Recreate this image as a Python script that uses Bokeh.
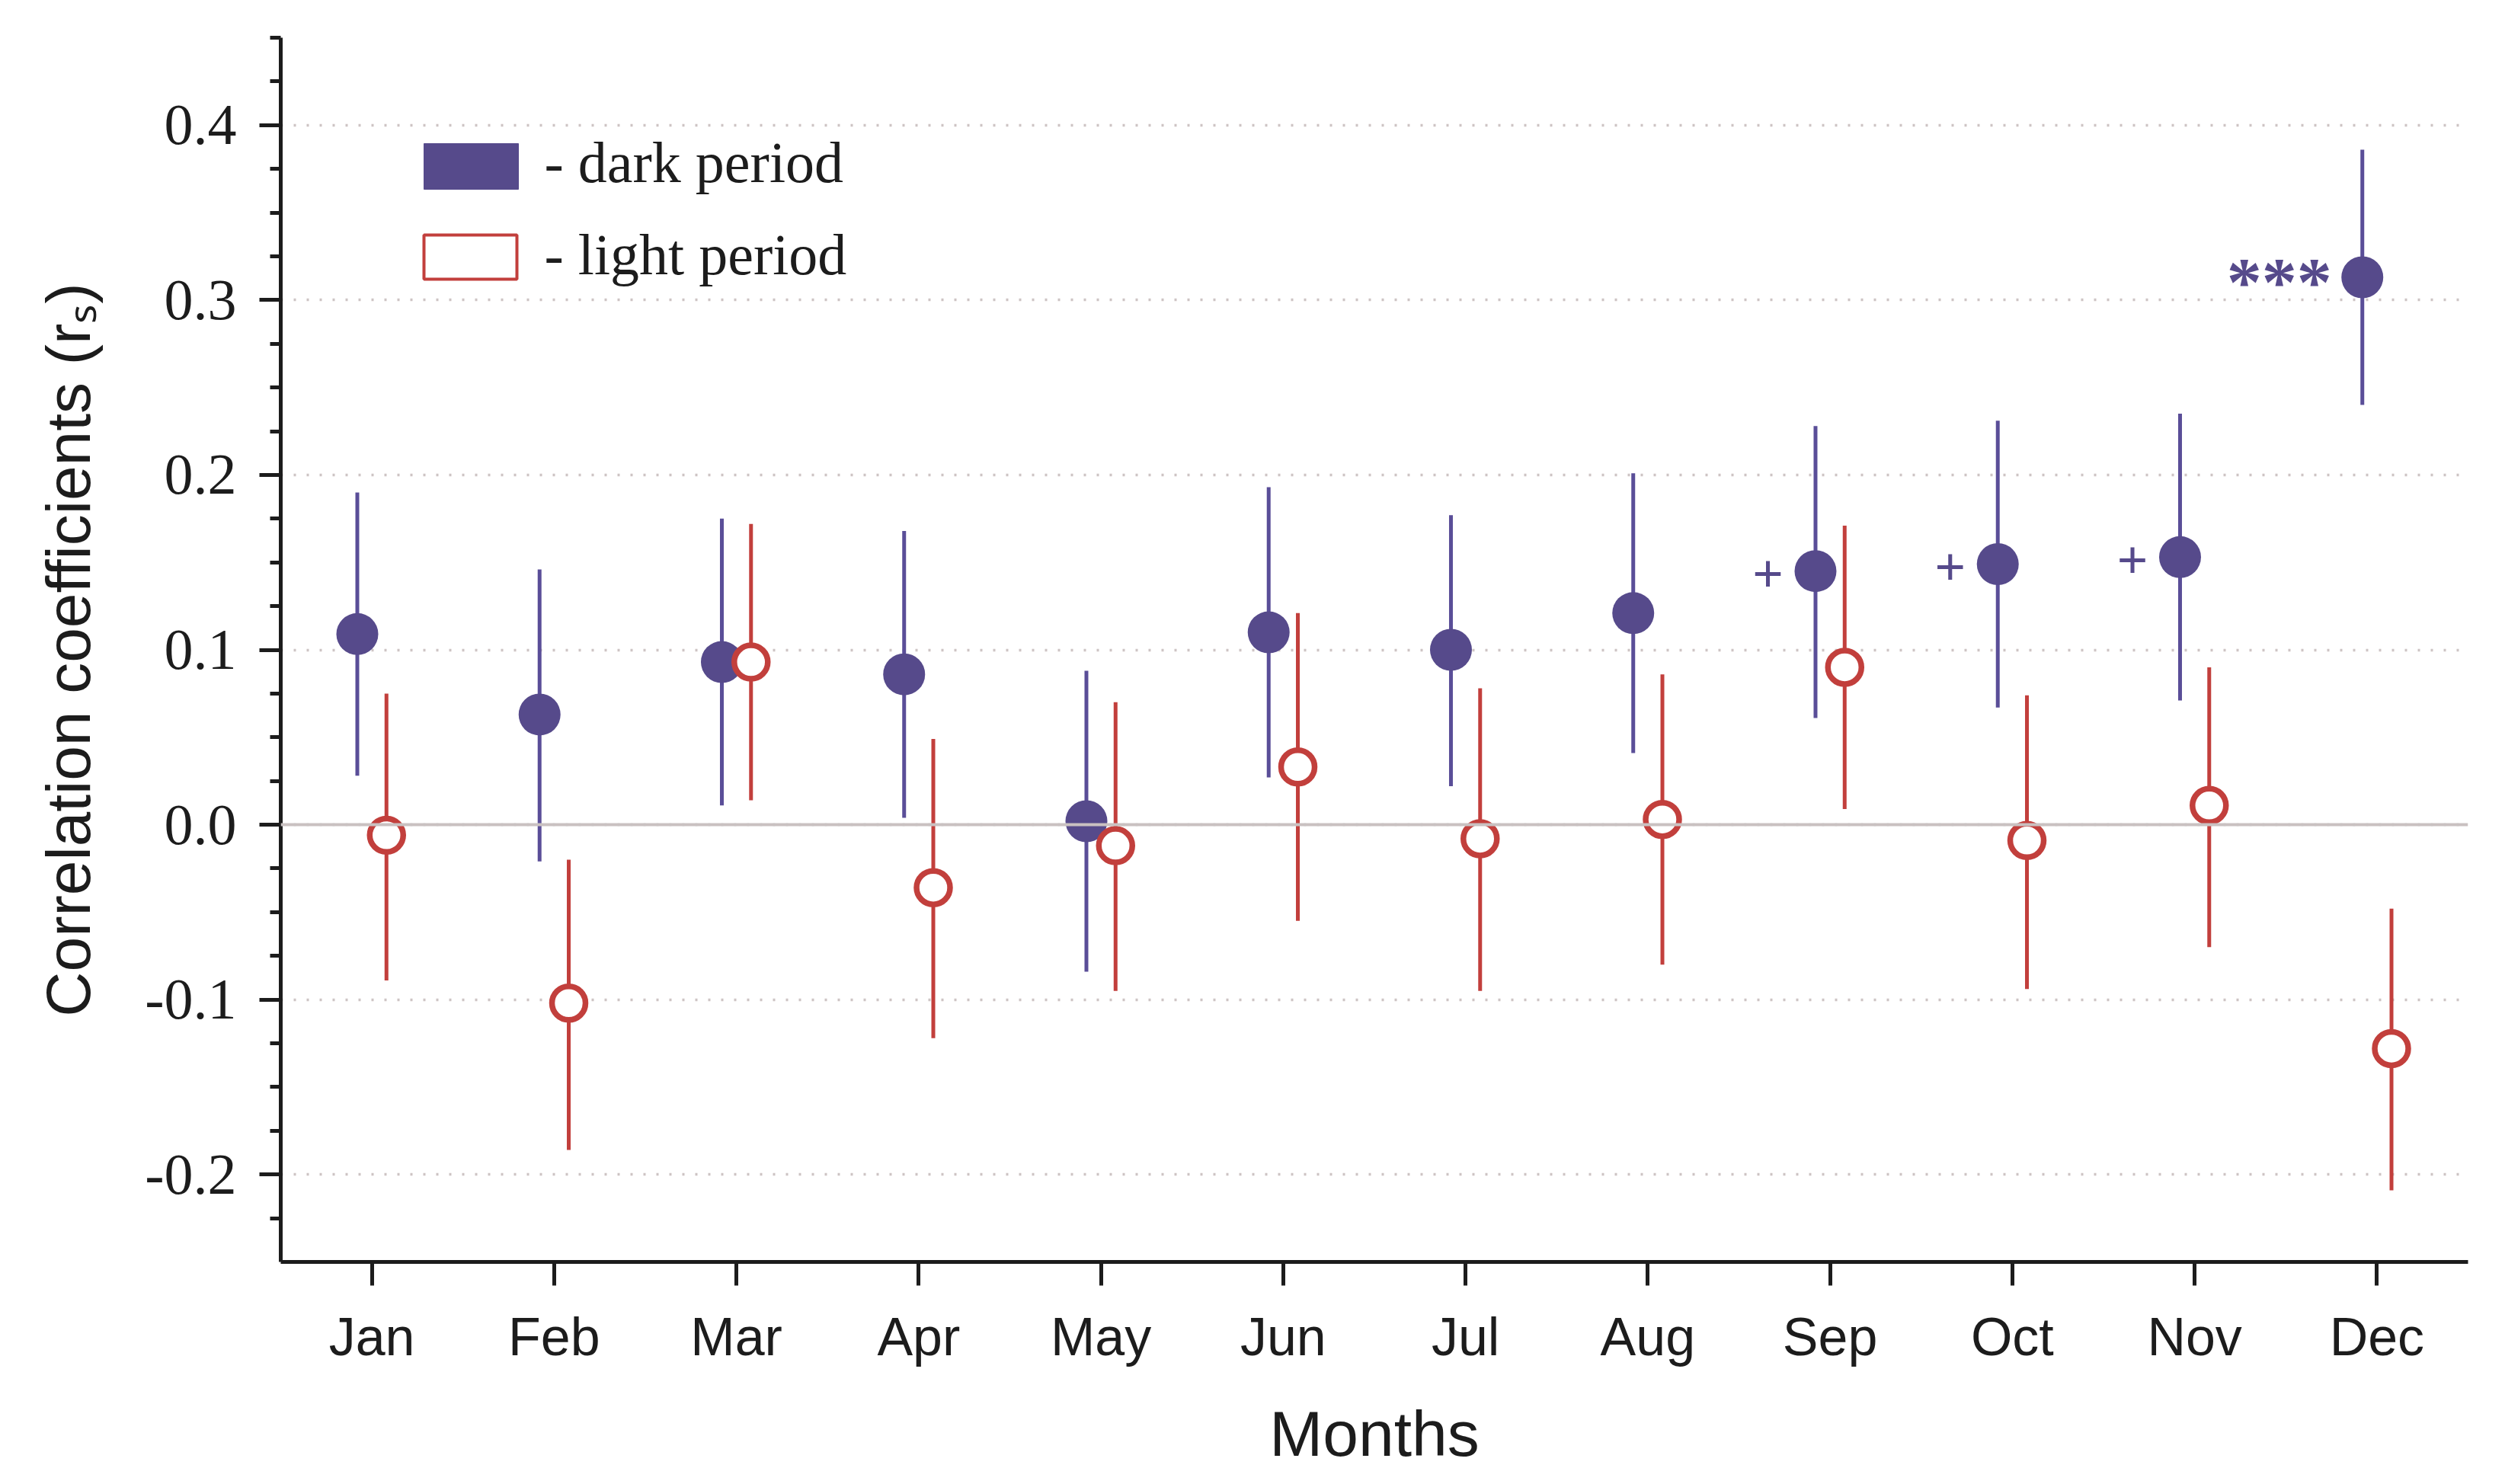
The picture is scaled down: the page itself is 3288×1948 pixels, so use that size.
from bokeh.plotting import figure
from bokeh.models import (FactorRange, Range1d, FixedTicker, PrintfTickFormatter,
                          ColumnDataSource, Span, BoxAnnotation, Label)
from bokeh.transform import dodge
from bokeh.core.properties import value
from bokeh.embed import file_html
from bokeh.resources import INLINE

# ---------------- data ----------------
months = ["Jan", "Feb", "Mar", "Apr", "May", "Jun", "Jul", "Aug", "Sep", "Oct", "Nov", "Dec"]

dark_r = [0.109, 0.063, 0.093, 0.086, 0.002, 0.110, 0.100, 0.121, 0.145, 0.149, 0.153, 0.313]
dark_lo = [0.028, -0.021, 0.011, 0.004, -0.084, 0.027, 0.022, 0.041, 0.061, 0.067, 0.071, 0.240]
dark_hi = [0.190, 0.146, 0.175, 0.168, 0.088, 0.193, 0.177, 0.201, 0.228, 0.231, 0.235, 0.386]

light_r = [-0.006, -0.102, 0.093, -0.036, -0.012, 0.033, -0.008, 0.003, 0.090, -0.009, 0.011, -0.128]
light_lo = [-0.089, -0.186, 0.014, -0.122, -0.095, -0.055, -0.095, -0.080, 0.009, -0.094, -0.070, -0.209]
light_hi = [0.075, -0.020, 0.172, 0.049, 0.070, 0.121, 0.078, 0.086, 0.171, 0.074, 0.090, -0.048]

signif = ["", "", "", "", "", "", "", "", "+", "+", "+", "***"]

y_major = [-0.2, -0.1, 0.0, 0.1, 0.2, 0.3, 0.4]
y_minor = [-0.225, -0.175, -0.15, -0.125, -0.075, -0.05, -0.025, 0.025, 0.05, 0.075,
           0.125, 0.15, 0.175, 0.225, 0.25, 0.275, 0.325, 0.35, 0.375, 0.425, 0.45]

legend_labels = ["- dark period", "- light period"]

# ---------------- styles ----------------
PURPLE = "#564a8b"
PURPLE_LINE = "#5a4e98"
RED = "#c23f3c"
INK = "#1c1c1c"
SERIF = "Liberation Serif"
SANS = "Liberation Sans"

dark_src = ColumnDataSource(dict(month=months, r=dark_r, lo=dark_lo, hi=dark_hi, sig=signif))
light_src = ColumnDataSource(dict(month=months, r=light_r, lo=light_lo, hi=light_hi))

plus_idx = [i for i, s in enumerate(signif) if s == "+"]
star_idx = [i for i, s in enumerate(signif) if s.startswith("*")]
plus_src = ColumnDataSource(dict(month=[months[i] for i in plus_idx],
                                 r=[dark_r[i] for i in plus_idx],
                                 sig=[signif[i] for i in plus_idx]))
star_src = ColumnDataSource(dict(month=[months[i] for i in star_idx],
                                 r=[dark_r[i] for i in star_idx],
                                 sig=[signif[i] for i in star_idx]))

p = figure(width=3272, height=1932,
           x_range=FactorRange(factors=months, range_padding=0),
           y_range=Range1d(-0.25, 0.45),
           output_backend="svg", toolbar_location=None,
           min_border_left=368, min_border_right=33,
           min_border_top=49, min_border_bottom=276)
p.outline_line_color = None
p.background_fill_color = "white"
p.border_fill_color = "white"

DX = 0.08
xd = dodge("month", -DX, range=p.x_range)
xl = dodge("month", DX, range=p.x_range)

# grid
p.xgrid.visible = False
p.ygrid.ticker = FixedTicker(ticks=y_major)
p.ygrid.grid_line_color = "#cdc4c4"
p.ygrid.grid_line_dash = "3 14"
p.ygrid.grid_line_width = 3.5

p.add_layout(Span(location=0, dimension="width", line_color="#c9c1c1", line_width=4))

# dark period
p.segment(x0=xd, y0="lo", x1=xd, y1="hi", source=dark_src, line_color=PURPLE_LINE, line_width=5)
p.scatter(x=xd, y="r", source=dark_src, marker="circle", size=55,
          fill_color=PURPLE, line_color=None)

# light period
p.segment(x0=xl, y0="lo", x1=xl, y1="hi", source=light_src, line_color=RED, line_width=5)
p.scatter(x=xl, y="r", source=light_src, marker="circle", size=44,
          fill_color="white", line_color=RED, line_width=7.5)

# significance marks
p.text(x=xd, y="r", text="sig", source=plus_src, text_align="right", text_baseline="middle",
       x_offset=-42, y_offset=4, text_font=value(SERIF), text_font_style="bold",
       text_font_size="72px", text_color=PURPLE)
p.text(x=xd, y="r", text="sig", source=star_src, text_align="right", text_baseline="middle",
       x_offset=-40, y_offset=6, text_font=value(SERIF), text_font_style="bold",
       text_font_size="92px", text_color=PURPLE)

# axes
for ax in (p.xaxis, p.yaxis):
    ax.axis_line_color = INK
    ax.axis_line_width = 5
    ax.major_tick_line_color = INK
    ax.major_tick_line_width = 5
    ax.minor_tick_line_color = INK
    ax.minor_tick_line_width = 5
    ax.major_tick_in = 0
    ax.minor_tick_in = 0
    ax.major_label_text_color = INK
    ax.axis_label_text_color = INK
    ax.axis_label_text_font = SANS
    ax.axis_label_text_font_style = "normal"

p.yaxis.ticker = FixedTicker(ticks=y_major, minor_ticks=y_minor)
p.yaxis.formatter = PrintfTickFormatter(format="%.1f")
p.yaxis.major_tick_out = 28
p.yaxis.minor_tick_out = 14
p.yaxis.major_label_text_font = SERIF
p.yaxis.major_label_text_font_size = "76px"
p.yaxis.major_label_standoff = 30
p.yaxis.axis_label = "Correlation coefficients (r\u209b)"
p.yaxis.axis_label_text_font_size = "82px"
p.yaxis.axis_label_standoff = 52

p.xaxis.major_tick_out = 31
p.xaxis.major_label_text_font = SANS
p.xaxis.major_label_text_font_size = "70px"
p.xaxis.major_label_standoff = 28
p.xaxis.axis_label = "Months"
p.xaxis.axis_label_text_font_size = "84px"
p.xaxis.axis_label_standoff = 38

# legend drawn as boxes and labels (canvas pixel units)
p.add_layout(BoxAnnotation(left=556, right=680, top=188, bottom=248,
                           left_units="canvas", right_units="canvas",
                           top_units="canvas", bottom_units="canvas",
                           fill_color=PURPLE, fill_alpha=1, line_color=PURPLE,
                           line_alpha=1, line_width=1))
p.add_layout(BoxAnnotation(left=556, right=678, top=308, bottom=366,
                           left_units="canvas", right_units="canvas",
                           top_units="canvas", bottom_units="canvas",
                           fill_color="white", fill_alpha=1, line_color=RED,
                           line_alpha=1, line_width=4))
for lbl, yb in zip(legend_labels, [212, 333]):
    p.add_layout(Label(x=714, y=yb, x_units="canvas", y_units="canvas", text=lbl,
                       text_font=SERIF, text_font_size="76px", text_color=INK,
                       text_baseline="alphabetic", text_align="left"))

open("out.html", "w").write(file_html(p, INLINE))
